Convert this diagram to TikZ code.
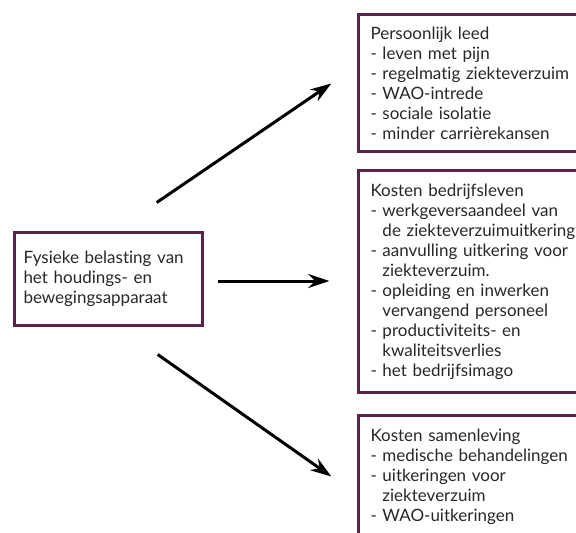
\documentclass[tikz,border=0pt]{standalone}
\usepackage{fontspec}
\setmainfont{Lato}[Ligatures={NoCommon,NoRare}]
\usetikzlibrary{arrows.meta}
\pgfdeclarelayer{edgelayer}
\pgfdeclarelayer{nodelayer}
\pgfsetlayers{edgelayer,nodelayer,main}
\definecolor{boxrand}{RGB}{88,36,74}
\definecolor{tekst}{RGB}{40,40,40}
\newcommand{\inspring}{\leavevmode\phantom{- }}
\tikzstyle{none}=[inner sep=0pt]
\tikzstyle{box}=[rectangle,draw=boxrand,line width=3pt,fill=white,text=tekst,align=left,inner xsep=9pt,font=\fontsize{17}{20}\selectfont]
\tikzstyle{listbox}=[box,text width=236pt,inner xsep=12pt,minimum width=260pt]
\tikzstyle{pijl}=[-{Stealth[length=21pt,width=14pt]},draw=black,line width=3pt]

\begin{document}
\begin{tikzpicture}[x=1pt,y=1pt]
	\useasboundingbox (0, 0) rectangle (576, -533);
	\begin{pgfonlayer}{nodelayer}
		\node [style=box, text width=170pt, minimum height=93pt] (0) at (108.5, -279) {Fysieke belasting van\\het houdings- en\\bewegingsapparaat};
		\node [style=listbox, minimum height=137pt] (1) at (488.5, -83) {Persoonlijk leed\\- leven met pijn\\- regelmatig ziekteverzuim\\- WAO-intrede\\- sociale isolatie\\- minder carri\`erekansen};
		\node [style=listbox, minimum height=222pt] (2) at (488.5, -281.5) {Kosten bedrijfsleven\\- werkgeversaandeel van\\\inspring de ziekteverzuimuitkering\\- aanvulling uitkering voor\\\inspring ziekteverzuim.\\- opleiding en inwerken\\\inspring vervangend personeel\\- productiviteits- en\\\inspring kwaliteitsverlies\\- het bedrijfsimago};
		\node [style=listbox, minimum height=123pt] (3) at (488.5, -477) {Kosten samenleving\\- medische behandelingen\\- uitkeringen voor\\\inspring ziekteverzuim\\- WAO-uitkeringen};
		\node [style=none] (4) at (156, -203) {};
		\node [style=none] (5) at (332, -83) {};
		\node [style=none] (6) at (217, -281) {};
		\node [style=none] (7) at (330, -281) {};
		\node [style=none] (8) at (157, -354) {};
		\node [style=none] (9) at (332, -477) {};
	\end{pgfonlayer}
	\begin{pgfonlayer}{edgelayer}
		\draw [style=pijl] (4) to (5);
		\draw [style=pijl] (6) to (7);
		\draw [style=pijl] (8) to (9);
	\end{pgfonlayer}
\end{tikzpicture}
\end{document}
